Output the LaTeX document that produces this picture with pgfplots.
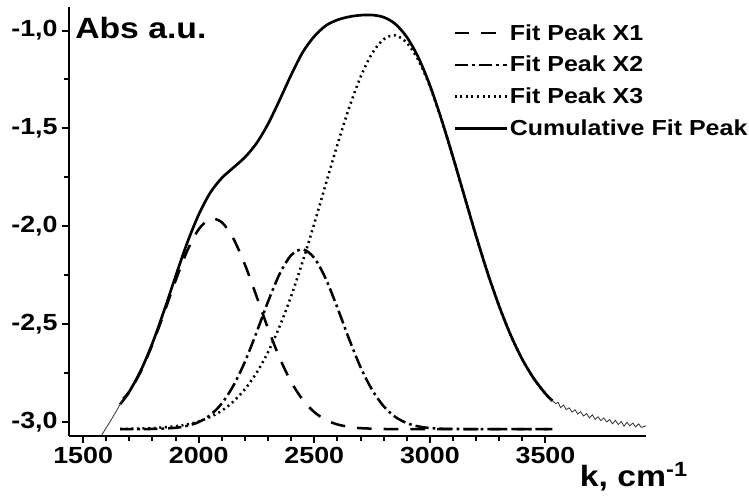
\documentclass[border=0pt]{standalone}
\usepackage{fontspec}
\setmainfont{Liberation Sans}[FakeStretch=1.15]
\usepackage{pgfplots}
\pgfplotsset{compat=1.18}

\begin{document}
\begin{tikzpicture}
\begin{axis}[
    name=ax,
    scale only axis, width=432.75pt, height=321.75pt,
    xmin=1439, xmax=3935, ymin=-3.07, ymax=-0.88,
    axis x line=bottom, axis y line=left,
    axis line style={-, line width=1.9pt},
    xtick={1500,2000,...,3500}, ytick={-3,-2.5,...,-1},
    minor x tick num=4, minor y tick num=1,
    tick align=outside, tick style={line width=1.5pt, black},
    major tick length=5pt, minor tick length=3.5pt,
    ticklabel style={font=\bfseries\fontsize{17.5}{19}\selectfont},
    /pgf/number format/assume math mode=true,
    xticklabel style={/pgf/number format/1000 sep={}},
    yticklabel style={/pgf/number format/.cd, fixed, fixed zerofill, precision=1, use comma},
    legend style={at={(rel axis cs:0.6655,0.965)}, anchor=north west, draw=none, fill=none,
        inner sep=0pt, row sep=7.5pt, font=\bfseries\fontsize{16.3}{18}\selectfont,
        nodes={inner sep=1.5pt}},
    legend cell align=left,
    legend image code/.code={\draw[#1] (0pt,0pt) -- (39pt,0pt);},
]
% component fits
\addplot[black, line width=1.9pt, smooth, dash pattern=on 11pt off 9pt] coordinates {
(1660,-2.908) (1700,-2.845) (1750,-2.739) (1800,-2.602) (1850,-2.443) (1900,-2.277)
(1950,-2.126) (2000,-2.015) (2050,-1.962) (2100,-1.979) (2150,-2.062) (2200,-2.195)
(2250,-2.356) (2300,-2.521) (2350,-2.671) (2400,-2.794) (2450,-2.885) (2500,-2.948)
(2550,-2.988) (2600,-3.011) (2650,-3.023) (2700,-3.030) (2800,-3.034) (2900,-3.035) (3530,-3.035)};
\addlegendentry{Fit Peak X1}
\addplot[black, line width=1.9pt, smooth, dash pattern=on 10pt off 3pt on 2pt off 3pt] coordinates {
(1660,-3.035) (1800,-3.034) (1900,-3.028) (1950,-3.018) (2000,-2.999) (2050,-2.963)
(2100,-2.904) (2150,-2.813) (2200,-2.691) (2250,-2.542) (2300,-2.384) (2350,-2.243)
(2400,-2.147) (2450,-2.117) (2500,-2.161) (2550,-2.268) (2600,-2.415) (2650,-2.573)
(2700,-2.718) (2750,-2.834) (2800,-2.918) (2850,-2.972) (2900,-3.004) (2950,-3.021)
(3000,-3.029) (3100,-3.034) (3530,-3.035)};
\addlegendentry{Fit Peak X2}
\addplot[black, line width=1.9pt, smooth, dash pattern=on 1.5pt off 2.7pt] coordinates {
(1660,-3.034) (1800,-3.030) (1900,-3.020) (1950,-3.011) (2000,-2.996) (2050,-2.973)
(2100,-2.941) (2150,-2.894) (2200,-2.831) (2250,-2.748) (2300,-2.642) (2350,-2.511)
(2400,-2.356) (2450,-2.179) (2500,-1.986) (2550,-1.783) (2600,-1.583) (2650,-1.397)
(2700,-1.238) (2750,-1.117) (2800,-1.045) (2850,-1.025) (2900,-1.062) (2950,-1.151)
(3000,-1.285) (3050,-1.455) (3100,-1.646) (3150,-1.848) (3200,-2.049) (3250,-2.238)
(3300,-2.408) (3350,-2.556) (3400,-2.679) (3450,-2.777) (3500,-2.854) (3530,-2.890)};
\addlegendentry{Fit Peak X3}
% cumulative fit
\addplot[black, line width=2pt, smooth] coordinates {
(1673,-2.880) (1700,-2.843) (1750,-2.735) (1800,-2.596) (1850,-2.431) (1900,-2.255)
(1950,-2.085) (2000,-1.940) (2050,-1.828) (2100,-1.753) (2150,-1.700) (2200,-1.647)
(2250,-1.576) (2300,-1.477) (2350,-1.355) (2400,-1.227) (2450,-1.111) (2500,-1.030)
(2550,-0.975) (2600,-0.946) (2650,-0.930) (2700,-0.922) (2750,-0.921) (2800,-0.932)
(2850,-0.966) (2900,-1.033) (2950,-1.137) (3000,-1.279) (3050,-1.453) (3100,-1.646)
(3150,-1.848) (3200,-2.049) (3250,-2.238) (3300,-2.408) (3350,-2.556) (3400,-2.679)
(3450,-2.777) (3500,-2.854) (3530,-2.890)};
\addlegendentry{Cumulative Fit Peak}
% measured spectrum outside the fit range
\addplot[black!80, line width=0.6pt, forget plot] coordinates {
(1578,-3.07) (1620,-2.990) (1650,-2.930) (1673,-2.880)};
\addplot[black!80, line width=0.6pt, forget plot] coordinates {
(3530,-2.890) (3545,-2.905) (3555,-2.898) (3565,-2.925) (3578,-2.912) (3590,-2.935)
(3603,-2.926) (3615,-2.948) (3628,-2.936) (3640,-2.958) (3652,-2.946) (3665,-2.968)
(3678,-2.955) (3690,-2.978) (3703,-2.962) (3715,-2.985) (3728,-2.972) (3740,-2.992)
(3752,-2.978) (3765,-2.998) (3778,-2.986) (3790,-3.008) (3803,-2.990) (3815,-3.012)
(3828,-2.996) (3840,-3.020) (3852,-3.000) (3865,-3.018) (3878,-3.004) (3890,-3.024)
(3903,-3.008) (3915,-3.026) (3935,-3.018)};
\end{axis}
\node[anchor=west, font=\bfseries\fontsize{22}{24}\selectfont, inner sep=0pt]
    at ([xshift=4.5pt,yshift=-16pt]ax.north west) {Abs a.u.};
\node[anchor=west, font=\bfseries\fontsize{22}{24}\selectfont, inner sep=0pt]
    at ([xshift=383pt,yshift=-30.75pt]ax.south west) {k, cm\textsuperscript{-1}};
\pgfresetboundingbox
\path ([shift={(-51.75pt,-48.75pt)}]ax.south west) rectangle ([shift={(77.25pt,5.25pt)}]ax.north east);
\end{tikzpicture}
\end{document}
